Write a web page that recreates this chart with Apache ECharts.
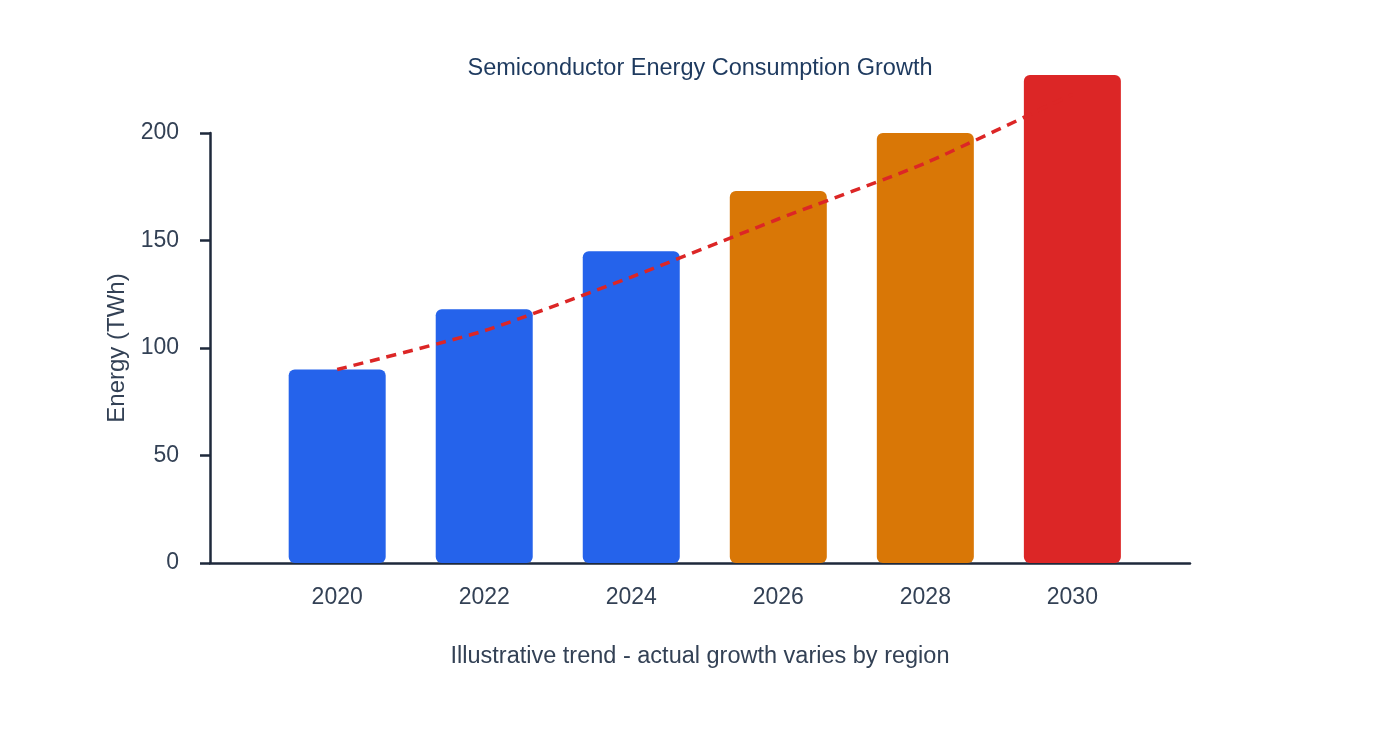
<!DOCTYPE html>
<html>
<head>
<meta charset="utf-8">
<title>Semiconductor Energy Consumption Growth</title>
<script src="https://cdn.jsdelivr.net/npm/echarts@6/dist/echarts.min.js"></script>
<style>
    html, body { margin: 0; padding: 0; background: #fff; }
    #chart { width: 1400px; height: 732px; }
</style>
</head>
<body>
<div id="chart"></div>
<script>
// data
var years = [2020, 2022, 2024, 2026, 2028, 2030];
var energy = [90, 118, 145, 173, 200, 227];
var trend = [90, 108, 133, 160, 186, 218];
var yTicks = [0, 50, 100, 150, 200];

// styles
var barColors = ['#2563eb', '#2563eb', '#2563eb', '#d97706', '#d97706', '#dc2626'];
var textColor = '#334155';
var axisColor = '#1e293b';
var font = "'Liberation Sans', Arial, sans-serif";

function pairs(xs, ys) {
    return xs.map(function (x, i) { return [x, ys[i]]; });
}

var chart = echarts.init(document.getElementById('chart'));
chart.setOption({
    animation: false,
    textStyle: { fontFamily: font },
    title: [
        {
            text: 'Semiconductor Energy Consumption Growth',
            left: 'center',
            top: 52,
            textStyle: { fontSize: 23.5, fontWeight: 'normal', color: '#1e3a5f', fontFamily: font }
        },
        {
            text: 'Illustrative trend - actual growth varies by region',
            left: 'center',
            top: 640,
            textStyle: { fontSize: 23.5, fontWeight: 'normal', color: textColor, fontFamily: font }
        }
    ],
    grid: {
        left: 210,
        right: 210,
        top: 133,
        bottom: 169,
        outerBoundsMode: 'none'
    },
    xAxis: {
        type: 'value',
        min: 2018.27,
        max: 2031.6,
        splitLine: { show: false },
        axisTick: { show: false },
        axisLine: { show: true, lineStyle: { color: axisColor, width: 2.5 } },
        axisLabel: {
            customValues: years,
            formatter: function (v) { return String(v); },
            fontSize: 23,
            color: textColor,
            margin: 23
        }
    },
    yAxis: {
        type: 'value',
        min: yTicks[0],
        max: yTicks[yTicks.length - 1],
        interval: 50,
        name: 'Energy (TWh)',
        nameLocation: 'middle',
        nameGap: 81,
        nameTextStyle: { fontSize: 24, color: textColor },
        splitLine: { show: false },
        axisLine: { show: true, lineStyle: { color: axisColor, width: 2.5 } },
        axisTick: { show: true, length: 10, lineStyle: { color: axisColor, width: 2.5 } },
        axisLabel: { fontSize: 23, color: textColor, margin: 31 }
    },
    series: [
        {
            name: 'Energy',
            type: 'bar',
            clip: false,
            barWidth: 97,
            data: pairs(years, energy),
            itemStyle: {
                borderRadius: 6,
                color: function (p) { return barColors[p.dataIndex]; }
            }
        },
        {
            name: 'Trend',
            type: 'line',
            clip: false,
            smooth: 0.2,
            symbol: 'none',
            data: pairs(years, trend),
            lineStyle: { color: '#dc2626', width: 3.5, type: [10, 7] }
        }
    ]
});

window.addEventListener('resize', function () {
    chart.resize();
});
</script>
</body>
</html>
